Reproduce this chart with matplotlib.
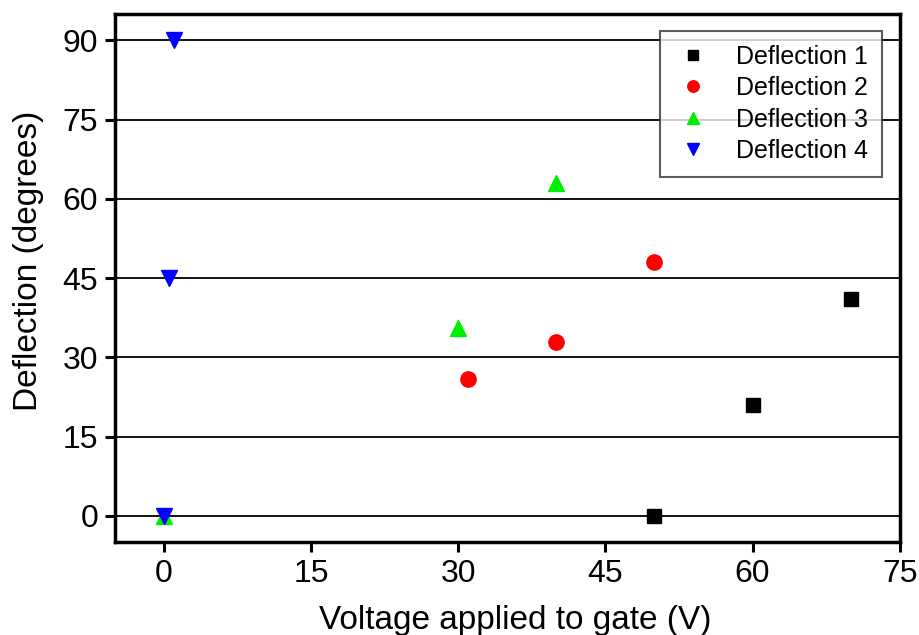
import matplotlib
matplotlib.use("Agg")
import matplotlib.pyplot as plt

plt.rcParams['font.family'] = ['Liberation Sans', 'DejaVu Sans']

d1_x = [50, 60, 70]
d1_y = [0, 21, 41]
d2_x = [31, 40, 50]
d2_y = [26, 33, 48]
d3_x = [0, 30, 40]
d3_y = [0, 35.5, 63]
d4_x = [0, 0.5, 1]
d4_y = [0, 45, 90]

xticks = [0, 15, 30, 45, 60, 75]
yticks = [0, 15, 30, 45, 60, 75, 90]

fig = plt.figure(figsize=(9.19, 6.35), dpi=100)
ax = fig.add_axes([0.125, 0.146, 0.854, 0.832])

ax.plot(d1_x, d1_y, 's', color='black', ms=9.5, label='Deflection 1', zorder=3)
ax.plot(d2_x, d2_y, 'o', color='red', ms=11, label='Deflection 2', zorder=3)
ax.plot(d3_x, d3_y, '^', color='#00ee00', ms=12, label='Deflection 3', zorder=3)
ax.plot(d4_x, d4_y, 'v', color='blue', ms=12, label='Deflection 4', zorder=4)

ax.set_xlim(-5, 75)
ax.set_ylim(-5, 95)
ax.set_xticks(xticks)
ax.set_yticks(yticks)
ax.yaxis.grid(True, color='black', lw=1.3)
ax.set_axisbelow(True)
for s in ax.spines.values():
    s.set_linewidth(2.5)
ax.tick_params(direction='out', length=7, width=2.2, labelsize=23, pad=5)
ax.set_xlabel('Voltage applied to gate (V)', fontsize=24)
ax.set_ylabel('Deflection (degrees)', fontsize=24)
ax.xaxis.set_label_coords(0.51, -0.118)
ax.yaxis.set_label_coords(-0.090, 0.532)

leg = ax.legend(loc='upper right', bbox_to_anchor=(0.977, 0.968), fontsize=18,
                markerscale=0.75, frameon=True, fancybox=False, edgecolor='#333333',
                handletextpad=0.9, borderpad=0.55, labelspacing=0.3, handlelength=1.6,
                borderaxespad=0.0)
leg.get_frame().set_linewidth(1.5)

fig.savefig('out.png', dpi=100)
